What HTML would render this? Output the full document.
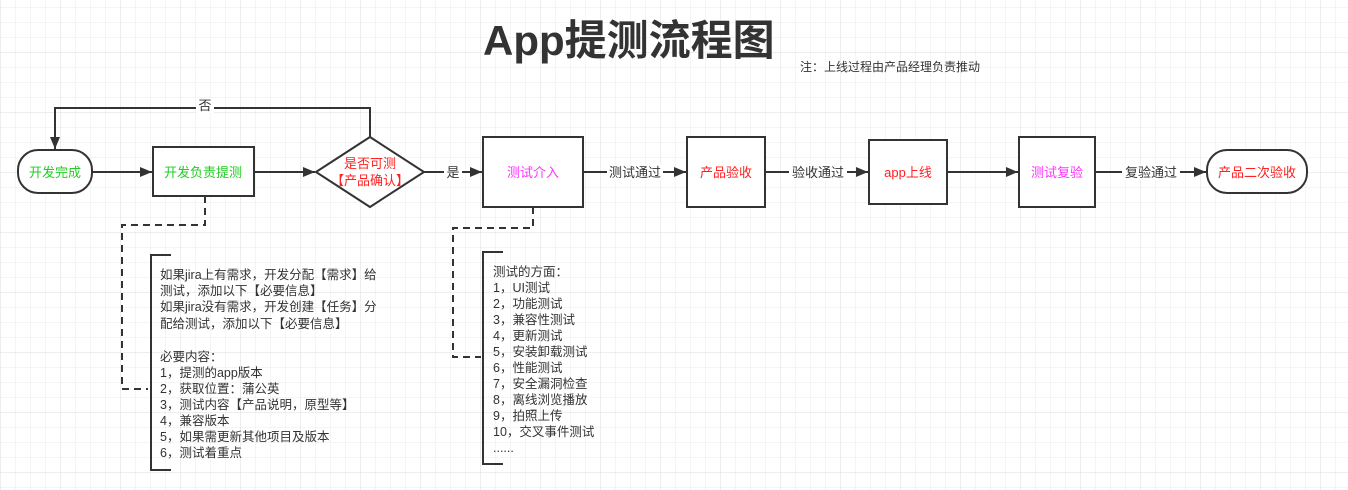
<!DOCTYPE html>
<html><head><meta charset="utf-8"><style>
html,body{margin:0;padding:0;background:#fff}
svg{display:block;font-family:"Liberation Sans","Noto Sans CJK SC",sans-serif}
</style></head><body>
<svg width="1348" height="490" viewBox="0 0 1348 490" xmlns="http://www.w3.org/2000/svg">
<defs>
<pattern id="g" x="0" y="7" width="15" height="15" patternUnits="userSpaceOnUse">
<path d="M0 0H15M0 0V15" stroke="#ebebeb" stroke-width="1" fill="none"/>
</pattern>
<pattern id="G" x="0" y="-8" width="60" height="60" patternUnits="userSpaceOnUse">
<path d="M0 0H60M0 0V60" stroke="#dedede" stroke-width="1" fill="none"/>
</pattern>
<marker id="a" viewBox="0 0 12 10" refX="12" refY="5" markerWidth="12" markerHeight="10" markerUnits="userSpaceOnUse" orient="auto">
<path d="M0 0L12 5L0 10z" fill="#333"/>
</marker>
</defs>
<rect width="1348" height="490" fill="url(#g)"/>
<rect width="1348" height="490" fill="url(#G)"/>

<text x="483" y="55" font-size="42" font-weight="bold" fill="#333">App提测流程图</text>
<text x="800" y="71" font-size="12" fill="#333">注：上线过程由产品经理负责推动</text>

<g stroke="#333" stroke-width="2" fill="#fff">
<rect x="18" y="150" width="74" height="43" rx="20"/>
<rect x="153" y="147" width="101" height="49"/>
<path d="M316 172L370 137L424 172L370 207z"/>
<rect x="483" y="137" width="100" height="70"/>
<rect x="687" y="137" width="78" height="70"/>
<rect x="869" y="140" width="78" height="64"/>
<rect x="1019" y="137" width="76" height="70"/>
<rect x="1207" y="150" width="100" height="43" rx="20"/>
</g>
<g stroke="#333" stroke-width="2" fill="none" marker-end="url(#a)">
<path d="M92 172H152"/>
<path d="M254 172H315"/>
<path d="M424 172H482"/>
<path d="M583 172H686"/>
<path d="M765 172H868"/>
<path d="M947 172H1018"/>
<path d="M1095 172H1206"/>
<path d="M370 137V108H55V149"/>
</g>
<g font-size="13" fill="#333" text-anchor="middle">
<rect x="196" y="98" width="18" height="15" fill="#fff"/>
<text x="205" y="110">否</text>
<rect x="444" y="164" width="18" height="16" fill="#fff"/>
<text x="453" y="177">是</text>
<rect x="607" y="164" width="56" height="16" fill="#fff"/>
<text x="635" y="177">测试通过</text>
<rect x="789" y="164" width="58" height="16" fill="#fff"/>
<text x="818" y="177">验收通过</text>
<rect x="1122" y="164" width="58" height="16" fill="#fff"/>
<text x="1151" y="177">复验通过</text>
</g>
<g font-size="13" text-anchor="middle">
<text x="55" y="177" fill="#22cc22">开发完成</text>
<text x="203" y="177" fill="#22cc22">开发负责提测</text>
<text x="370" y="168" fill="#ff2020">是否可测</text>
<text x="370" y="185" fill="#ff2020">【产品确认】</text>
<text x="533" y="177" fill="#ff33ff">测试介入</text>
<text x="726" y="177" fill="#ff2020">产品验收</text>
<text x="908" y="177" fill="#ff2020">app上线</text>
<text x="1057" y="177" fill="#ff33ff">测试复验</text>
<text x="1257" y="177" fill="#ff2020">产品二次验收</text>
</g>
<g stroke="#333" stroke-width="2" fill="none" stroke-dasharray="7,5">
<path d="M205 196V225H122V389H148"/>
<path d="M533 207V228H453V357H481"/>
</g>
<g stroke="#333" stroke-width="2" fill="none">
<path d="M171 255H151V470H171"/>
<path d="M503 252H483V464H503"/>
</g>
<g font-size="12.5" fill="#333">
<text x="160" y="279">如果jira上有需求，开发分配【需求】给</text>
<text x="160" y="295">测试，添加以下【必要信息】</text>
<text x="160" y="311">如果jira没有需求，开发创建【任务】分</text>
<text x="160" y="328">配给测试，添加以下【必要信息】</text>
<text x="160" y="361">必要内容：</text>
<text x="160" y="377">1，提测的app版本</text>
<text x="160" y="393">2，获取位置：蒲公英</text>
<text x="160" y="409">3，测试内容【产品说明，原型等】</text>
<text x="160" y="425">4，兼容版本</text>
<text x="160" y="441">5，如果需更新其他项目及版本</text>
<text x="160" y="457">6，测试着重点</text>
</g>
<g font-size="12.5" fill="#333">
<text x="493" y="276">测试的方面：</text>
<text x="493" y="292">1，UI测试</text>
<text x="493" y="308">2，功能测试</text>
<text x="493" y="324">3，兼容性测试</text>
<text x="493" y="340">4，更新测试</text>
<text x="493" y="356">5，安装卸载测试</text>
<text x="493" y="372">6，性能测试</text>
<text x="493" y="388">7，安全漏洞检查</text>
<text x="493" y="404">8，离线浏览播放</text>
<text x="493" y="420">9，拍照上传</text>
<text x="493" y="436">10，交叉事件测试</text>
<text x="493" y="452">......</text>
</g>
</svg>
</body></html>
